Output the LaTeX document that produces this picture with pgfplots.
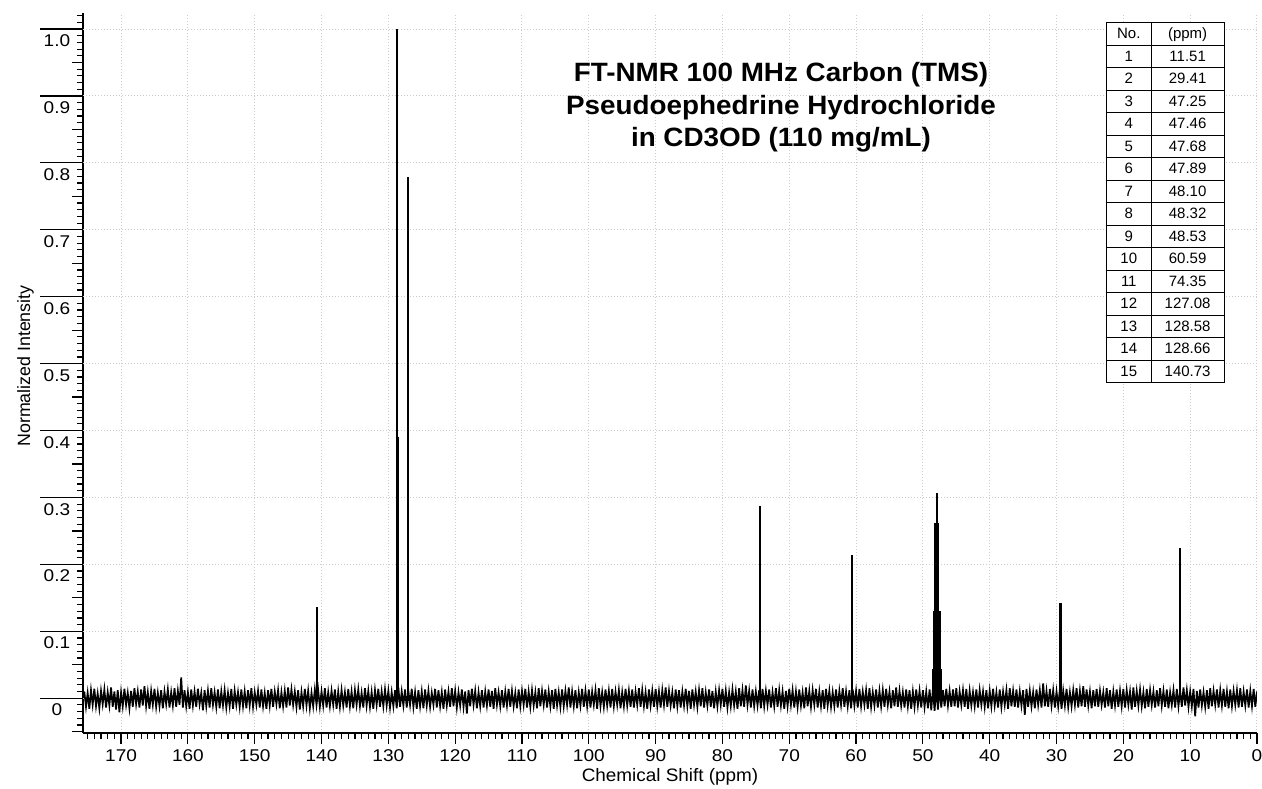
\documentclass[border=0pt]{standalone}
\usepackage{fontspec}
\usepackage{array}
\usepackage{pgfplots}
\pgfplotsset{compat=1.18}
\setmainfont{Liberation Sans}
\newfontfamily\tickfont[FakeStretch=1.12]{Liberation Sans}
\newfontfamily\titlefont[FakeStretch=1.05]{Liberation Sans}
\definecolor{gridgray}{RGB}{205,205,205}
\newcommand\rs{\rule[-5.9pt]{0pt}{21.5pt}}
\begin{document}
\begin{tikzpicture}
\useasboundingbox (-83pt,-56pt) rectangle (1179pt,733pt);
\begin{axis}[
  name=ax,
  at={(0,0)}, anchor=south west,
  scale only axis, width=1174pt, height=720pt,
  x dir=reverse,
  xmin=0, xmax=175.7, ymin=-0.052, ymax=1.024,
  axis x line*=bottom, axis y line*=left,
  axis line style={line width=1.2pt, black},
  tick style={line width=1.2pt, black},
  tick align=outside,
  major tick length=11pt, minor tick length=6pt,
  xtick={0,10,...,170},
  xticklabels={0,10,20,30,40,50,60,70,80,90,100,110,120,130,140,150,160,170},
  minor xtick={0,1,...,175},
  ytick={-0.05,0.05,0.15,0.25,0.35,0.45,0.55,0.65,0.75,0.85,0.95},
  yticklabels={},
  minor ytick={-0.05,-0.04,...,1.025},
  extra y ticks={0,0.1,0.2,0.3,0.4,0.5,0.6,0.7,0.8,0.9,1.0},
  extra y tick labels={0,0.1,0.2,0.3,0.4,0.5,0.6,0.7,0.8,0.9,1.0},
  extra y tick style={major tick length=43pt, ymajorgrids=true,
     yticklabel style={anchor=north, inner sep=0pt, xshift=17pt, yshift=-5.5pt}},
  xmajorgrids=true, ymajorgrids=false,
  major grid style={color=gridgray, line width=1pt, dash pattern=on 1pt off 2pt},
  tick label style={font=\tickfont\fontsize{17}{17}\selectfont},
  xticklabel style={inner sep=0pt, yshift=-5pt},
  xlabel={Chemical Shift (ppm)},
  xlabel style={font=\titlefont\fontsize{18}{18}\selectfont, at={(axis description cs:0.5,0)}, anchor=base, yshift=-49pt},
  ylabel={Normalized Intensity},
  ylabel style={font=\fontsize{17.8}{17.8}\selectfont, at={(axis description cs:-0.0451,0.5097)}, anchor=base, rotate=0},
  clip=true,
]
% baseline noise
\addplot[black, line width=1.7pt, line join=miter] coordinates {
(175.50,0.010) (175.25,-0.013) (175.00,0.008) (174.75,-0.016) (174.50,0.012) (174.25,-0.010) (174.00,0.014) (173.75,-0.012) (173.50,0.007) (173.25,-0.015) (173.00,0.011) (172.75,-0.009) (172.50,0.013) (172.25,-0.014) (172.00,0.009) (171.75,-0.011) (171.50,0.016) (171.25,-0.013) (171.00,0.010) (170.75,-0.017)
(170.50,0.012) (170.25,-0.021) (170.00,0.009) (169.75,-0.012) (169.50,0.014) (169.25,-0.010) (169.00,0.008) (168.75,-0.015) (168.50,0.011) (168.25,-0.013) (168.00,0.015) (167.75,-0.009) (167.50,0.010) (167.25,-0.014) (167.00,0.013) (166.75,-0.011) (166.50,0.018) (166.25,-0.012) (166.00,0.009) (165.75,-0.016)
(165.50,0.011) (165.25,-0.010) (165.00,0.014) (164.75,-0.013) (164.50,0.008) (164.25,-0.012) (164.00,0.012) (163.75,-0.015) (163.50,0.010) (163.25,-0.009) (163.00,0.013) (162.75,-0.014) (162.50,0.009) (162.25,-0.011) (162.00,0.015) (161.75,-0.013) (161.50,0.011) (161.25,-0.010) (161.00,0.031) (160.75,-0.014)
(160.50,0.012) (160.25,-0.012) (160.00,0.009) (159.75,-0.016) (159.50,0.013) (159.25,-0.011) (159.00,0.010) (158.75,-0.013) (158.50,0.014) (158.25,-0.009) (158.00,0.008) (157.75,-0.018) (157.50,0.012) (157.25,-0.012) (157.00,0.011) (156.75,-0.014) (156.50,0.015) (156.25,-0.010) (156.00,0.009) (155.75,-0.013)
(155.50,0.013) (155.25,-0.015) (155.00,0.010) (154.75,-0.011) (154.50,0.012) (154.25,-0.014) (154.00,0.008) (153.75,-0.012) (153.50,0.014) (153.25,-0.016) (153.00,0.011) (152.75,-0.010) (152.50,0.009) (152.25,-0.013) (152.00,0.013) (151.75,-0.012) (151.50,0.010) (151.25,-0.015) (151.00,0.012) (150.75,-0.011)
(150.50,0.015) (150.25,-0.013) (150.00,0.009) (149.75,-0.010) (149.50,0.011) (149.25,-0.014) (149.00,0.013) (148.75,-0.012) (148.50,0.008) (148.25,-0.016) (148.00,0.012) (147.75,-0.011) (147.50,0.014) (147.25,-0.013) (147.00,0.010) (146.75,-0.009) (146.50,0.012) (146.25,-0.015) (146.00,0.009) (145.75,-0.012)
(145.50,0.011) (145.25,-0.014) (145.00,0.016) (144.75,-0.011) (144.50,0.013) (144.25,-0.010) (144.00,0.010) (143.75,-0.013) (143.50,0.012) (143.25,-0.017) (143.00,0.009) (142.75,-0.012) (142.50,0.014) (142.25,-0.011) (142.00,0.011) (141.75,-0.015) (141.50,0.008) (141.25,-0.012) (141.00,0.013) (140.75,-0.010)
(140.50,0.012) (140.25,-0.013) (140.00,0.010) (139.75,-0.011) (139.50,0.015) (139.25,-0.014) (139.00,0.009) (138.75,-0.012) (138.50,0.011) (138.25,-0.010) (138.00,0.013) (137.75,-0.016) (137.50,0.010) (137.25,-0.013) (137.00,0.012) (136.75,-0.011) (136.50,0.009) (136.25,-0.014) (136.00,0.014) (135.75,-0.012)
(135.50,0.010) (135.25,-0.015) (135.00,0.012) (134.75,-0.010) (134.50,0.013) (134.25,-0.012) (134.00,0.008) (133.75,-0.014) (133.50,0.015) (133.25,-0.011) (133.00,0.011) (132.75,-0.013) (132.50,0.009) (132.25,-0.016) (132.00,0.012) (131.75,-0.010) (131.50,0.014) (131.25,-0.013) (131.00,0.010) (130.75,-0.012)
(130.50,0.013) (130.25,-0.011) (130.00,0.011) (129.75,-0.014) (129.50,0.009) (129.25,-0.012) (129.00,0.012) (128.75,-0.015) (128.50,0.016) (128.25,-0.013) (128.00,0.010) (127.75,-0.011) (127.50,0.013) (127.25,-0.014) (127.00,0.011) (126.75,-0.010) (126.50,0.014) (126.25,-0.013) (126.00,0.009) (125.75,-0.016)
(125.50,0.012) (125.25,-0.012) (125.00,0.010) (124.75,-0.015) (124.50,0.013) (124.25,-0.011) (124.00,0.011) (123.75,-0.013) (123.50,0.008) (123.25,-0.010) (123.00,0.014) (122.75,-0.014) (122.50,0.012) (122.25,-0.012) (122.00,0.009) (121.75,-0.016) (121.50,0.013) (121.25,-0.011) (121.00,0.010) (120.75,-0.013)
(120.50,0.015) (120.25,-0.012) (120.00,0.011) (119.75,-0.014) (119.50,0.009) (119.25,-0.011) (119.00,0.013) (118.75,-0.013) (118.50,0.010) (118.25,-0.023) (118.00,0.012) (117.75,-0.012) (117.50,0.014) (117.25,-0.010) (117.00,0.011) (116.75,-0.015) (116.50,0.009) (116.25,-0.012) (116.00,0.012) (115.75,-0.014)
(115.50,0.010) (115.25,-0.011) (115.00,0.013) (114.75,-0.013) (114.50,0.011) (114.25,-0.016) (114.00,0.015) (113.75,-0.010) (113.50,0.009) (113.25,-0.012) (113.00,0.012) (112.75,-0.014) (112.50,0.010) (112.25,-0.011) (112.00,0.014) (111.75,-0.013) (111.50,0.011) (111.25,-0.012) (111.00,0.008) (110.75,-0.015)
(110.50,0.013) (110.25,-0.012) (110.00,0.011) (109.75,-0.010) (109.50,0.014) (109.25,-0.014) (109.00,0.010) (108.75,-0.013) (108.50,0.012) (108.25,-0.011) (108.00,0.009) (107.75,-0.015) (107.50,0.015) (107.25,-0.012) (107.00,0.011) (106.75,-0.010) (106.50,0.013) (106.25,-0.014) (106.00,0.010) (105.75,-0.012)
(105.50,0.012) (105.25,-0.016) (105.00,0.014) (104.75,-0.011) (104.50,0.009) (104.25,-0.013) (104.00,0.013) (103.75,-0.012) (103.50,0.011) (103.25,-0.010) (103.00,0.016) (102.75,-0.014) (102.50,0.010) (102.25,-0.012) (102.00,0.012) (101.75,-0.015) (101.50,0.009) (101.25,-0.011) (101.00,0.014) (100.75,-0.013)
(100.50,0.011) (100.25,-0.012) (100.00,0.013) (99.75,-0.014) (99.50,0.010) (99.25,-0.010) (99.00,0.012) (98.75,-0.016) (98.50,0.015) (98.25,-0.012) (98.00,0.009) (97.75,-0.013) (97.50,0.013) (97.25,-0.011) (97.00,0.011) (96.75,-0.014) (96.50,0.014) (96.25,-0.012) (96.00,0.010) (95.75,-0.010)
(95.50,0.012) (95.25,-0.015) (95.00,0.009) (94.75,-0.012) (94.50,0.014) (94.25,-0.011) (94.00,0.011) (93.75,-0.013) (93.50,0.013) (93.25,-0.014) (93.00,0.010) (92.75,-0.010) (92.50,0.015) (92.25,-0.013) (92.00,0.012) (91.75,-0.012) (91.50,0.009) (91.25,-0.016) (91.00,0.013) (90.75,-0.011)
(90.50,0.011) (90.25,-0.013) (90.00,0.014) (89.75,-0.012) (89.50,0.010) (89.25,-0.014) (89.00,0.012) (88.75,-0.010) (88.50,0.016) (88.25,-0.013) (88.00,0.011) (87.75,-0.011) (87.50,0.009) (87.25,-0.015) (87.00,0.013) (86.75,-0.012) (86.50,0.012) (86.25,-0.014) (86.00,0.010) (85.75,-0.011)
(85.50,0.014) (85.25,-0.012) (85.00,0.011) (84.75,-0.016) (84.50,0.013) (84.25,-0.010) (84.00,0.010) (83.75,-0.013) (83.50,0.012) (83.25,-0.012) (83.00,0.015) (82.75,-0.014) (82.50,0.009) (82.25,-0.011) (82.00,0.013) (81.75,-0.013) (81.50,0.011) (81.25,-0.015) (81.00,0.010) (80.75,-0.012)
(80.50,0.012) (80.25,-0.010) (80.00,0.014) (79.75,-0.013) (79.50,0.011) (79.25,-0.014) (79.00,0.009) (78.75,-0.012) (78.50,0.013) (78.25,-0.011) (78.00,0.010) (77.75,-0.016) (77.50,0.015) (77.25,-0.012) (77.00,0.012) (76.75,-0.013) (76.50,0.019) (76.25,-0.010) (76.00,0.011) (75.75,-0.014)
(75.50,0.013) (75.25,-0.012) (75.00,0.010) (74.75,-0.011) (74.50,0.012) (74.25,-0.015) (74.00,0.014) (73.75,-0.012) (73.50,0.011) (73.25,-0.010) (73.00,0.013) (72.75,-0.014) (72.50,0.009) (72.25,-0.012) (72.00,0.015) (71.75,-0.013) (71.50,0.012) (71.25,-0.011) (71.00,0.010) (70.75,-0.016)
(70.50,0.011) (70.25,-0.012) (70.00,0.014) (69.75,-0.010) (69.50,0.012) (69.25,-0.014) (69.00,0.010) (68.75,-0.013) (68.50,0.013) (68.25,-0.011) (68.00,0.009) (67.75,-0.015) (67.50,0.016) (67.25,-0.012) (67.00,0.011) (66.75,-0.013) (66.50,0.012) (66.25,-0.010) (66.00,0.014) (65.75,-0.014)
(65.50,0.010) (65.25,-0.012) (65.00,0.012) (64.75,-0.016) (64.50,0.014) (64.25,-0.011) (64.00,0.011) (63.75,-0.013) (63.50,0.009) (63.25,-0.012) (63.00,0.013) (62.75,-0.014) (62.50,0.011) (62.25,-0.010) (62.00,0.015) (61.75,-0.013) (61.50,0.010) (61.25,-0.012) (61.00,0.012) (60.75,-0.015)
(60.50,0.013) (60.25,-0.011) (60.00,0.011) (59.75,-0.014) (59.50,0.014) (59.25,-0.012) (59.00,0.010) (58.75,-0.010) (58.50,0.012) (58.25,-0.016) (58.00,0.015) (57.75,-0.013) (57.50,0.009) (57.25,-0.011) (57.00,0.013) (56.75,-0.014) (56.50,0.011) (56.25,-0.012) (56.00,0.012) (55.75,-0.013)
(55.50,0.014) (55.25,-0.010) (55.00,0.010) (54.75,-0.015) (54.50,0.012) (54.25,-0.012) (54.00,0.016) (53.75,-0.013) (53.50,0.011) (53.25,-0.011) (53.00,0.009) (52.75,-0.014) (52.50,0.013) (52.25,-0.012) (52.00,0.012) (51.75,-0.016) (51.50,0.010) (51.25,-0.013) (51.00,0.013) (50.75,-0.011)
(50.50,0.011) (50.25,-0.014) (50.00,0.012) (49.75,-0.013) (49.50,0.010) (49.25,-0.015) (49.00,0.013) (48.75,-0.018) (48.50,0.014) (48.25,-0.019) (48.00,0.016) (47.75,-0.017) (47.50,0.015) (47.25,-0.014) (47.00,0.012) (46.75,-0.012) (46.50,0.014) (46.25,-0.011) (46.00,0.011) (45.75,-0.013)
(45.50,0.013) (45.25,-0.012) (45.00,0.015) (44.75,-0.014) (44.50,0.010) (44.25,-0.010) (44.00,0.012) (43.75,-0.013) (43.50,0.014) (43.25,-0.016) (43.00,0.011) (42.75,-0.011) (42.50,0.009) (42.25,-0.012) (42.00,0.013) (41.75,-0.014) (41.50,0.012) (41.25,-0.010) (41.00,0.010) (40.75,-0.013)
(40.50,0.012) (40.25,-0.015) (40.00,0.011) (39.75,-0.012) (39.50,0.014) (39.25,-0.011) (39.00,0.009) (38.75,-0.014) (38.50,0.013) (38.25,-0.013) (38.00,0.010) (37.75,-0.010) (37.50,0.012) (37.25,-0.016) (37.00,0.015) (36.75,-0.012) (36.50,0.011) (36.25,-0.013) (36.00,0.013) (35.75,-0.014)
(35.50,0.010) (35.25,-0.011) (35.00,0.012) (34.75,-0.025) (34.50,0.014) (34.25,-0.013) (34.00,0.011) (33.75,-0.012) (33.50,0.009) (33.25,-0.015) (33.00,0.013) (32.75,-0.010) (32.50,0.012) (32.25,-0.014) (32.00,0.022) (31.75,-0.012) (31.50,0.011) (31.25,-0.013) (31.00,0.014) (30.75,-0.011)
(30.50,0.012) (30.25,-0.014) (30.00,0.010) (29.75,-0.012) (29.50,0.013) (29.25,-0.016) (29.00,0.011) (28.75,-0.011) (28.50,0.014) (28.25,-0.013) (28.00,0.009) (27.75,-0.012) (27.50,0.012) (27.25,-0.010) (27.00,0.015) (26.75,-0.014) (26.50,0.011) (26.25,-0.012) (26.00,0.018) (25.75,-0.013)
(25.50,0.013) (25.25,-0.011) (25.00,0.010) (24.75,-0.015) (24.50,0.012) (24.25,-0.012) (24.00,0.014) (23.75,-0.013) (23.50,0.011) (23.25,-0.010) (23.00,0.009) (22.75,-0.014) (22.50,0.015) (22.25,-0.012) (22.00,0.012) (21.75,-0.016) (21.50,0.010) (21.25,-0.011) (21.00,0.013) (20.75,-0.013)
(20.50,0.011) (20.25,-0.012) (20.00,0.014) (19.75,-0.014) (19.50,0.012) (19.25,-0.010) (19.00,0.010) (18.75,-0.017) (18.50,0.016) (18.25,-0.013) (18.00,0.011) (17.75,-0.011) (17.50,0.013) (17.25,-0.012) (17.00,0.009) (16.75,-0.015) (16.50,0.014) (16.25,-0.013) (16.00,0.012) (15.75,-0.010)
(15.50,0.010) (15.25,-0.014) (15.00,0.012) (14.75,-0.012) (14.50,0.015) (14.25,-0.011) (14.00,0.011) (13.75,-0.013) (13.50,0.013) (13.25,-0.015) (13.00,0.009) (12.75,-0.010) (12.50,0.012) (12.25,-0.014) (12.00,0.014) (11.75,-0.012) (11.50,0.011) (11.25,-0.013) (11.00,0.016) (10.75,-0.011)
(10.50,0.012) (10.25,-0.013) (10.00,0.010) (9.75,-0.012) (9.50,0.014) (9.25,-0.027) (9.00,0.011) (8.75,-0.014) (8.50,0.013) (8.25,-0.011) (8.00,0.009) (7.75,-0.013) (7.50,0.012) (7.25,-0.016) (7.00,0.015) (6.75,-0.012) (6.50,0.011) (6.25,-0.010) (6.00,0.013) (5.75,-0.014)
(5.50,0.012) (5.25,-0.011) (5.00,0.014) (4.75,-0.013) (4.50,0.010) (4.25,-0.015) (4.00,0.013) (3.75,-0.012) (3.50,0.011) (3.25,-0.010) (3.00,0.012) (2.75,-0.014) (2.50,0.015) (2.25,-0.013) (2.00,0.010) (1.75,-0.011) (1.50,0.013) (1.25,-0.014) (1.00,0.011) (0.75,-0.012) (0.50,0.014) (0.25,-0.013) (0.00,0.010)
};
% peaks
\addplot[ycomb, black, line width=2.2pt, mark=none] coordinates {
(140.73,0.136) (128.66,1.000) (128.58,0.390) (127.08,0.779)
(74.35,0.287) (60.59,0.214)
(48.53,0.044) (48.32,0.131) (48.10,0.262) (47.89,0.306) (47.68,0.262) (47.46,0.131) (47.25,0.044)
(29.41,0.142) (11.51,0.224)
};
\end{axis}
% title
\begin{scope}[every node/.style={anchor=base, inner sep=0pt, font=\titlefont\bfseries\fontsize{26.5}{26.5}\selectfont}]
\node at ([shift={(698pt,-69pt)}]ax.north west) {FT-NMR 100 MHz Carbon (TMS)};
\node at ([shift={(698pt,-102pt)}]ax.north west) {Pseudoephedrine Hydrochloride};
\node at ([shift={(698pt,-134pt)}]ax.north west) {in CD3OD (110 mg/mL)};
\end{scope}
% peak table
\node[anchor=north east, inner sep=0pt, fill=white, font=\fontsize{15}{18}\selectfont] at ([shift={(-32pt,-9pt)}]ax.north east) {%
\setlength{\tabcolsep}{0pt}\setlength{\arrayrulewidth}{1pt}%
\begin{tabular}{|>{\centering\arraybackslash}p{43.4pt}|>{\centering\arraybackslash}p{72.3pt}|}
\hline
\rs No. & (ppm)\\ \hline
\rs 1 & 11.51\\ \hline
\rs 2 & 29.41\\ \hline
\rs 3 & 47.25\\ \hline
\rs 4 & 47.46\\ \hline
\rs 5 & 47.68\\ \hline
\rs 6 & 47.89\\ \hline
\rs 7 & 48.10\\ \hline
\rs 8 & 48.32\\ \hline
\rs 9 & 48.53\\ \hline
\rs 10 & 60.59\\ \hline
\rs 11 & 74.35\\ \hline
\rs 12 & 127.08\\ \hline
\rs 13 & 128.58\\ \hline
\rs 14 & 128.66\\ \hline
\rs 15 & 140.73\\ \hline
\end{tabular}};
\end{tikzpicture}
\end{document}
